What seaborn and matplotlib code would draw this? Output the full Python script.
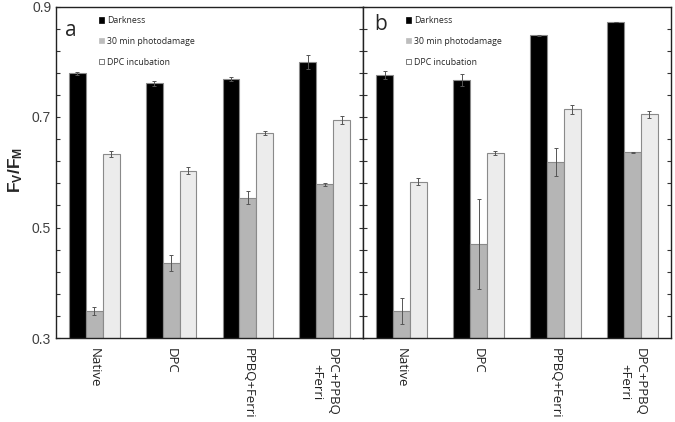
import numpy as np
import pandas as pd
import seaborn as sns
import matplotlib.pyplot as plt
from matplotlib.patches import Patch
from matplotlib.ticker import FixedLocator

treatments = ['Native', 'DPC', 'PPBQ+Ferri', 'DPC+PPBQ\n+Ferri']
conditions = ['Darkness', '30 min photodamage', 'DPC incubation']

# panel a
a_dark = [0.779, 0.761, 0.769, 0.799]
a_dark_err = [0.003, 0.005, 0.003, 0.013]
a_photo = [0.349, 0.436, 0.554, 0.578]
a_photo_err = [0.008, 0.015, 0.012, 0.003]
a_dpc = [0.633, 0.603, 0.671, 0.694]
a_dpc_err = [0.006, 0.006, 0.003, 0.007]

# panel b
b_dark = [0.776, 0.767, 0.848, 0.872]
b_dark_err = [0.007, 0.011, 0.001, 0.0005]
b_photo = [0.349, 0.470, 0.619, 0.636]
b_photo_err = [0.023, 0.082, 0.025, 0.001]
b_dpc = [0.583, 0.635, 0.714, 0.705]
b_dpc_err = [0.006, 0.003, 0.008, 0.006]

yticks = [0.3, 0.5, 0.7, 0.9]
colors = ['#000000', '#b5b5b5', '#ececec']

sns.set_style('white')
plt.rcParams['font.family'] = ['Liberation Sans', 'DejaVu Sans']
plt.rcParams['mathtext.fontset'] = 'custom'
plt.rcParams['mathtext.bf'] = 'Liberation Sans:bold'
plt.rcParams['mathtext.rm'] = 'Liberation Sans'


def make_df(dark, photo, dpc):
    rows = []
    for cond, vals in zip(conditions, [dark, photo, dpc]):
        for t, v in zip(treatments, vals):
            rows.append({'treatment': t, 'condition': cond, 'value': v})
    return pd.DataFrame(rows)


fig = plt.figure(figsize=(6.75, 4.22), dpi=100)
ax1 = fig.add_axes([56 / 675, 1 - 338 / 422, 307 / 675, 331.5 / 422])
ax2 = fig.add_axes([363 / 675, 1 - 338 / 422, 308 / 675, 331.5 / 422])

panels = [
    (ax1, 'a', (a_dark, a_photo, a_dpc), (a_dark_err, a_photo_err, a_dpc_err)),
    (ax2, 'b', (b_dark, b_photo, b_dpc), (b_dark_err, b_photo_err, b_dpc_err)),
]

for ax, lab, vals, errs in panels:
    df = make_df(*vals)
    sns.barplot(data=df, x='treatment', y='value', hue='condition',
                palette=colors, width=0.66, edgecolor='#8a8a8a',
                linewidth=0.8, saturation=1, errorbar=None, ax=ax,
                legend=False)
    for cont, e in zip(ax.containers, errs):
        xs = [p.get_x() + p.get_width() / 2 for p in cont]
        ys = [p.get_height() for p in cont]
        ax.errorbar(xs, ys, yerr=e, fmt='none', ecolor='#555555',
                    elinewidth=0.7, capsize=1.5, capthick=0.7)
    ax.set_ylim(0.3, 0.9)
    ax.set_xlim(-0.5, 3.5)
    ax.yaxis.set_major_locator(FixedLocator(yticks))
    ax.yaxis.set_minor_locator(FixedLocator(np.arange(0.3, 0.9, 0.04)))
    ax.set_yticklabels(['0.3', '0.5', '0.7', '0.9'])
    ax.tick_params(axis='y', which='both', direction='in', left=True,
                   right=True, length=3, width=0.8, colors='#333333',
                   labelsize=10, labelcolor='#404040')
    ax.tick_params(axis='x', bottom=False, pad=4)
    ax.set_xlabel('')
    ax.set_ylabel('')
    for lbl in ax.get_xticklabels():
        lbl.set_rotation(-90)
        lbl.set_va('top')
        lbl.set_ha('center')
        lbl.set_fontsize(9.5)
        lbl.set_fontfamily('Open Sans')
        lbl.set_color('#222222')
    for sp in ax.spines.values():
        sp.set_color('#222222')
        sp.set_linewidth(1.0)
    handles = [Patch(facecolor='#000000', edgecolor='#000000', linewidth=0.5),
               Patch(facecolor='#bdbdbd', edgecolor='#bdbdbd', linewidth=0.5),
               Patch(facecolor='#ffffff', edgecolor='#666666', linewidth=0.6)]
    leg = ax.legend(handles, conditions, loc='upper left',
                    bbox_to_anchor=(0.115, 0.995),
                    frameon=False, prop={'family': 'Open Sans', 'size': 6.3},
                    handlelength=0.55, handleheight=0.55, handletextpad=0.35,
                    labelspacing=1.35)
    ax.text(0.03 if lab == 'a' else 0.036, 0.96 if lab == 'a' else 0.978,
            lab, transform=ax.transAxes,
            fontsize=15, va='top', ha='left', family='Open Sans')

ax2.tick_params(axis='y', labelleft=False, right=False)

fig.text(16 / 675, 1 - 170 / 422, r'$\mathbf{F_V/F_M}$', rotation=90,
         fontsize=12.5, ha='center', va='center')

fig.savefig('out.png', dpi=100)
